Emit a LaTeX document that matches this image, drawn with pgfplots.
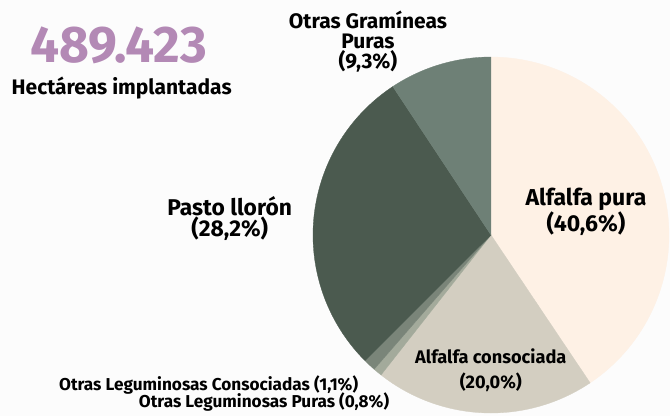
\documentclass[border=0pt]{standalone}
\usepackage{pgfplots}
\pgfplotsset{compat=1.18}
\usepgfplotslibrary{polar}
\usetikzlibrary{calc}
\usepackage{fontspec}
\setmainfont{Fira Sans}
\definecolor{bg}{HTML}{FCFCFC}
\definecolor{cPura}{HTML}{FEF1E5}
\definecolor{cCons}{HTML}{D3CEC1}
\definecolor{cLegP}{HTML}{A3AA9B}
\definecolor{cLegC}{HTML}{7A8579}
\definecolor{cPasto}{HTML}{4B5A4F}
\definecolor{cGram}{HTML}{6E8076}
\definecolor{cNum}{HTML}{B389B5}
\pgfdeclarelayer{bglayer}
\pgfsetlayers{bglayer,main}
\begin{document}
\begin{tikzpicture}
% shares (%): Alfalfa pura 40.6, Alfalfa consociada 20.0, Otras Leg. Puras 0.8,
% Otras Leg. Consociadas 1.1, Pasto lloron 28.2, Otras Gramineas Puras 9.3
% (clockwise from the top; 1% = 3.6 degrees)
\begin{polaraxis}[
  name=pie,
  scale only axis, width=356pt, height=356pt,
  ymin=0, ymax=1, hide axis, clip=false,
  samples=120]
\addplot[fill=cPura, draw=cPura, line width=0.3pt, domain=-56.16:90] {1} -- (0,0) -- cycle;
\addplot[fill=cCons, draw=cCons, line width=0.3pt, domain=-128.16:-56.16] {1} -- (0,0) -- cycle;
\addplot[fill=cLegP, draw=cLegP, line width=0.3pt, domain=-131.04:-128.16, samples=10] {1} -- (0,0) -- cycle;
\addplot[fill=cLegC, draw=cLegC, line width=0.3pt, domain=-135.00:-131.04, samples=10] {1} -- (0,0) -- cycle;
\addplot[fill=cPasto, draw=cPasto, line width=0.3pt, domain=-236.52:-135.00] {1} -- (0,0) -- cycle;
\addplot[fill=cGram, draw=cGram, line width=0.3pt, domain=-270.00:-236.52] {1} -- (0,0) -- cycle;
\end{polaraxis}
\coordinate (O) at ($(pie.center)+(-491pt,-181pt)$);
\begin{scope}[shift={(O)}, x=1pt, y=1pt]
\begin{pgfonlayer}{bglayer}
\fill[bg] (0,0) rectangle (670,416);
\end{pgfonlayer}
% headline
\node[anchor=base west, text=cNum, inner sep=0pt, font=\fontsize{51.5}{51}\selectfont\bfseries] at (30,353) {489.423};
\node[anchor=base west, inner sep=0pt, font=\fontsize{21}{22}\selectfont\bfseries] at (11.5,321.7) {Hectáreas implantadas};
% slice labels (anchor base = baseline of last line)
\node[align=center, inner sep=0pt, anchor=base, font=\fontsize{21}{20}\selectfont\bfseries] at (368,347.7) {Otras Gramíneas\\Puras\\(9,3\%)};
\node[align=center, inner sep=0pt, anchor=base, font=\fontsize{23}{24}\selectfont\bfseries] at (586,184.3) {Alfalfa pura\\(40,6\%)};
\node[align=center, inner sep=0pt, anchor=base, font=\fontsize{22.8}{21.5}\selectfont\bfseries] at (229.7,179.5) {Pasto llorón\\(28,2\%)};
\node[align=center, inner sep=0pt, anchor=base, font=\fontsize{18.2}{25}\selectfont\bfseries] at (490.8,28) {Alfalfa consociada\\(20,0\%)};
\node[anchor=base east, inner sep=0pt, font=\fontsize{17.2}{16}\selectfont\bfseries] at (358.3,26) {Otras Leguminosas Consociadas (1,1\%)};
\node[anchor=base east, inner sep=0pt, font=\fontsize{17.2}{16}\selectfont\bfseries] at (389.3,8.6) {Otras Leguminosas Puras (0,8\%)};
\end{scope}
\pgfresetboundingbox
\path[use as bounding box] (O) rectangle ($(O)+(670pt,416pt)$);
\end{tikzpicture}
\end{document}
